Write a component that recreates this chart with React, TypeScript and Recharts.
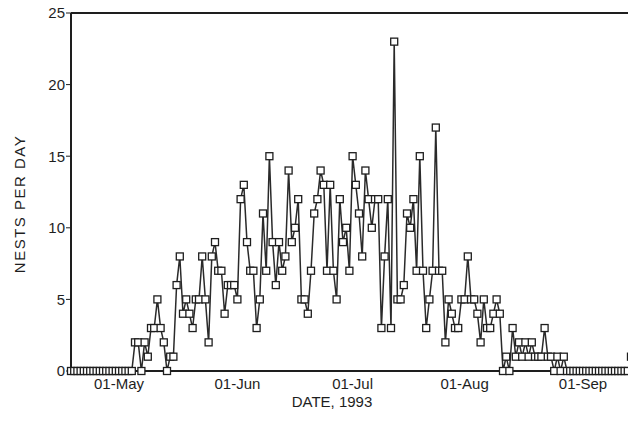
import { LineChart, Line, XAxis, YAxis, ReferenceLine } from "recharts";

// nests counted per day, read left to right off the scan (index = day slot on the x axis)
const nests = [
    0, 0, 0, 0, 0, 0, 0, 0, 0, 0,
    0, 0, 0, 0, 0, 0, 0, 0, 0, 0,
    2, 2, 0, 2, 1, 3, 3, 5, 3, 2,
    0, 1, 1, 6, 8, 4, 5, 4, 3, 5,
    5, 8, 5, 2, 8, 9, 7, 7, 4, 6,
    6, 6, 5, 12, 13, 9, 7, 7, 3, 5,
    11, 7, 15, 9, 6, 9, 7, 8, 14, 9,
    10, 12, 5, 5, 4, 7, 11, 12, 14, 13,
    7, 13, 7, 5, 12, 9, 10, 7, 15, 13,
    11, 8, 14, 12, 10, 12, 12, 3, 8, 12,
    3, 23, 5, 5, 6, 11, 10, 12, 7, 15,
    7, 3, 5, 7, 17, 7, 7, 2, 5, 4,
    3, 3, 5, 5, 8, 5, 5, 4, 2, 5,
    3, 3, 4, 5, 4, 0, 1, 0, 3, 1,
    2, 1, 2, 1, 2, 1, 1, 1, 3, 1,
    1, 0, 1, 0, 1, 0, 0, 0, 0, 0,
    0, 0, 0, 0, 0, 0, 0, 0, 0, 0,
    0, 0, 0, 0, 0, 1,
];

const dateTicks = [15, 52, 88, 123, 160];
const dateLabels = ["01-May", "01-Jun", "01-Jul", "01-Aug", "01-Sep"];
const countTicks = [0, 5, 10, 15, 20, 25];

const data = nests.map((n, i) => ({ day: i, nests: n }));

const ink = "#1e1e1e";
const font = "'Liberation Sans', Arial, sans-serif";

const SquareDot = (props: any) => {
    const { cx, cy, index } = props;
    if (cx == null || cy == null) return null;
    return (
        <rect
            key={`dot-${index}`}
            x={cx - 3.5}
            y={cy - 3.5}
            width={7}
            height={7}
            fill="#fff"
            stroke={ink}
            strokeWidth={1.3}
        />
    );
};

export default function App() {
    return (
        <div style={{ margin: -8, width: 636, height: 424, background: "#fff" }}>
            <LineChart
                width={636}
                height={424}
                data={data}
                margin={{ top: 13, right: 5, bottom: 0, left: 0 }}
            >
                <XAxis
                    dataKey="day"
                    type="number"
                    domain={[0, nests.length - 1]}
                    ticks={dateTicks}
                    tickFormatter={(v) => dateLabels[dateTicks.indexOf(v)] ?? ""}
                    height={53}
                    tickLine={false}
                    tickMargin={1}
                    axisLine={{ stroke: ink, strokeWidth: 2 }}
                    tick={{ fill: ink, fontSize: 15, fontFamily: font }}
                    label={{
                        content: ({ viewBox }: any) => (
                            <text
                                x={viewBox.x + viewBox.width / 2 - 19}
                                y={viewBox.y + 36}
                                textAnchor="middle"
                                fill={ink}
                                fontSize={15}
                                fontFamily={font}
                            >
                                DATE, 1993
                            </text>
                        ),
                    }}
                />
                <YAxis
                    type="number"
                    domain={[0, 25]}
                    ticks={countTicks}
                    width={71}
                    tickSize={5}
                    tickMargin={1}
                    tickLine={{ stroke: ink }}
                    axisLine={{ stroke: ink, strokeWidth: 2 }}
                    tick={{ fill: ink, fontSize: 15, fontFamily: font }}
                    label={{
                        content: ({ viewBox }: any) => {
                            const cx = 19;
                            const cy = viewBox.y + viewBox.height / 2 + 12;
                            return (
                                <text
                                    x={cx}
                                    y={cy}
                                    transform={`rotate(-90, ${cx}, ${cy})`}
                                    textAnchor="middle"
                                    dominantBaseline="central"
                                    fill={ink}
                                    fontSize={15}
                                    letterSpacing={1.5}
                                    fontFamily={font}
                                >
                                    NESTS PER DAY
                                </text>
                            );
                        },
                    }}
                />
                <ReferenceLine y={25} stroke={ink} strokeWidth={2} />
                <ReferenceLine x={nests.length - 1} stroke={ink} strokeWidth={1.5} />
                <Line
                    type="linear"
                    dataKey="nests"
                    stroke="#2a2a2a"
                    strokeWidth={1.5}
                    dot={<SquareDot />}
                    activeDot={false}
                    isAnimationActive={false}
                />
            </LineChart>
        </div>
    );
}
